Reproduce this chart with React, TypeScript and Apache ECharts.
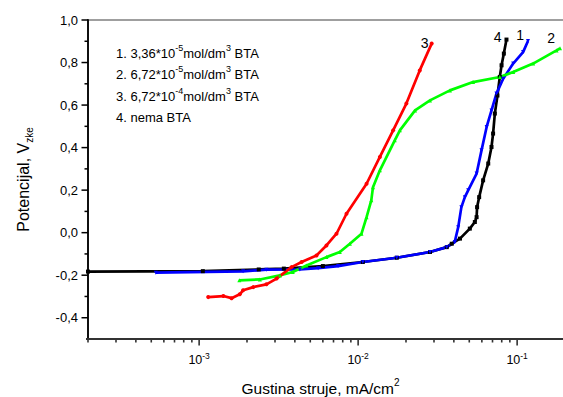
import React, { useEffect, useRef } from "react";
import * as echarts from "echarts";

// ---- data (current density in mA/cm², potential in V) ----
const series4Current = [2.0e-4, 1.055e-3, 2.37e-3, 3.41e-3, 6.0e-3, 0.0107, 0.0175, 0.0283, 0.0361, 0.0388, 0.0437, 0.0504, 0.0542, 0.0556, 0.056, 0.0577, 0.0611, 0.0658, 0.069, 0.0706, 0.0724, 0.0752, 0.0778, 0.0798, 0.0825, 0.0857];
const series4Potential = [-0.183, -0.181, -0.173, -0.169, -0.157, -0.138, -0.118, -0.091, -0.068, -0.052, -0.028, 0.019, 0.05, 0.073, 0.12, 0.167, 0.246, 0.325, 0.403, 0.466, 0.56, 0.645, 0.732, 0.787, 0.842, 0.908];

const series1Current = [5.34e-4, 1.89e-3, 2.65e-3, 4.3e-3, 5.6e-3, 7.48e-3, 0.0107, 0.0175, 0.0283, 0.0361, 0.0405, 0.0426, 0.0446, 0.0469, 0.0492, 0.0556, 0.0597, 0.0643, 0.069, 0.0741, 0.0817, 0.0944, 0.109, 0.117];
const series1Potential = [-0.188, -0.182, -0.174, -0.173, -0.167, -0.157, -0.138, -0.118, -0.091, -0.068, -0.044, 0.026, 0.12, 0.167, 0.199, 0.278, 0.387, 0.497, 0.575, 0.654, 0.724, 0.795, 0.849, 0.901];

const series2Current = [1.79e-3, 2.41e-3, 3.22e-3, 3.88e-3, 4.73e-3, 6.32e-3, 7.67e-3, 8.87e-3, 0.0105, 0.0113, 0.0121, 0.0124, 0.0137, 0.017, 0.0183, 0.0228, 0.0283, 0.0378, 0.0528, 0.0778, 0.0944, 0.126, 0.177, 0.186];
const series2Potential = [-0.224, -0.22, -0.201, -0.185, -0.154, -0.115, -0.091, -0.052, -0.005, 0.073, 0.152, 0.214, 0.293, 0.434, 0.481, 0.575, 0.622, 0.669, 0.708, 0.732, 0.755, 0.795, 0.857, 0.867];

const series3Current = [1.14e-3, 1.42e-3, 1.6e-3, 1.8e-3, 1.89e-3, 2.19e-3, 2.65e-3, 3.07e-3, 3.81e-3, 4.41e-3, 5.47e-3, 6.32e-3, 7.31e-3, 8.45e-3, 0.0113, 0.0137, 0.0166, 0.0201, 0.0244, 0.029];
const series3Potential = [-0.303, -0.298, -0.308, -0.29, -0.271, -0.256, -0.243, -0.216, -0.162, -0.138, -0.107, -0.06, -0.005, 0.089, 0.23, 0.356, 0.481, 0.607, 0.763, 0.889];

// ---- axes ----
const X_MIN = 2e-4;
const X_MAX = 0.2;
const Y_MIN = -0.5;
const Y_MAX = 1.0;
const xMinorTicks = [2e-4, 3e-4, 4e-4, 5e-4, 6e-4, 7e-4, 8e-4, 9e-4, 2e-3, 3e-3, 4e-3, 5e-3, 6e-3, 7e-3, 8e-3, 9e-3, 2e-2, 3e-2, 4e-2, 5e-2, 6e-2, 7e-2, 8e-2, 9e-2];
const xMajorTicks = [1e-3, 1e-2, 1e-1];
const yMajorTicks = [-0.4, -0.2, 0, 0.2, 0.4, 0.6, 0.8, 1.0];
const yMinorTicks = [-0.3, -0.1, 0.1, 0.3, 0.5, 0.7, 0.9];

const legendLines = [
  "1. 3,36*10{sup|-5}mol/dm{sup|3} BTA",
  "2. 6,72*10{sup|-5}mol/dm{sup|3} BTA",
  "3. 6,72*10{sup|-4}mol/dm{sup|3} BTA",
  "4. nema BTA",
];

const FONT = "'Liberation Sans', Arial, Helvetica, sans-serif";
const AXIS_DARK = "#333333";

function buildData(cur: number[], pot: number[], tag: string, offset: number[]) {
  return cur.map((c, i) =>
    i === cur.length - 1
      ? {
          value: [c, pot[i]],
          label: {
            show: true,
            formatter: tag,
            position: "left",
            offset,
            fontSize: 14,
            color: "#000",
            fontFamily: FONT,
          },
        }
      : [c, pot[i]]
  );
}

function xTick(len: number) {
  return (_p: any, api: any) => {
    const p = api.coord([api.value(0), Y_MIN]);
    return { type: "line", shape: { x1: p[0], y1: p[1], x2: p[0], y2: p[1] + len }, style: { stroke: AXIS_DARK, lineWidth: 1.6 } };
  };
}
function yTick(len: number) {
  return (_p: any, api: any) => {
    const p = api.coord([X_MIN, api.value(1)]);
    return { type: "line", shape: { x1: p[0] - len, y1: p[1], x2: p[0], y2: p[1] }, style: { stroke: "#000", lineWidth: 1.5 } };
  };
}
function bottomLine(_p: any, api: any) {
  const a = api.coord([X_MIN, Y_MIN]);
  const b = api.coord([X_MAX, Y_MIN]);
  return { type: "line", shape: { x1: a[0] - 2, y1: a[1], x2: b[0], y2: b[1] }, style: { stroke: AXIS_DARK, lineWidth: 2 } };
}

export default function App() {
  const ref = useRef<HTMLDivElement>(null);
  useEffect(() => {
    if (!ref.current) return;
    const chart = echarts.init(ref.current, undefined, { renderer: "svg" });
    const lineSeries = (name: string, data: any[], color: string, symbol: string, rotate = 0) => ({
      type: "line",
      name,
      data,
      symbol,
      symbolRotate: rotate,
      symbolSize: 4,
      showSymbol: true,
      lineStyle: { color, width: 2.7 },
      itemStyle: { color },
      silent: true,
      z: 3,
    });
    chart.setOption({
      animation: false,
      backgroundColor: "#fff",
      grid: {
        left: 88,
        top: 20,
        width: 477,
        height: 319,
        show: true,
        borderColor: "#808080",
        borderWidth: 1.5,
        outerBoundsMode: "none",
      },
      xAxis: {
        type: "log",
        logBase: 10,
        min: X_MIN,
        max: X_MAX,
        axisLine: { show: true, onZero: false, lineStyle: { color: AXIS_DARK, width: 2 } },
        axisTick: { show: false },
        splitLine: { show: false },
        axisLabel: {
          showMinLabel: false,
          showMaxLabel: false,
          margin: 12,
          color: "#000",
          fontFamily: FONT,
          formatter: (v: number) => "{base|10}{sup|" + Math.round(Math.log10(v)) + "}",
          rich: {
            base: { fontSize: 12.5, lineHeight: 18, fontFamily: FONT, color: "#000" },
            sup: { fontSize: 8.5, verticalAlign: "top", lineHeight: 9, fontFamily: FONT, color: "#000" },
          },
        },
        name: "{base|Gustina struje, mA/cm}{sup|2}",
        nameLocation: "middle",
        nameGap: 38,
        nameTextStyle: {
          color: "#000",
          fontFamily: FONT,
          padding: [0, 12, 0, 0],
          rich: {
            base: { fontSize: 15.5, lineHeight: 22, fontFamily: FONT, color: "#000" },
            sup: { fontSize: 10, verticalAlign: "top", lineHeight: 10, fontFamily: FONT, color: "#000" },
          },
        },
      },
      yAxis: {
        type: "value",
        min: Y_MIN,
        max: Y_MAX,
        interval: 0.1,
        axisLine: { show: true, onZero: false, lineStyle: { color: "#000", width: 1.8 } },
        axisTick: { show: false },
        splitLine: { show: false },
        axisLabel: {
          margin: 10,
          color: "#000",
          fontSize: 13,
          fontFamily: FONT,
          formatter: (v: number) => {
            const k = Math.round(v * 10);
            if (k % 2 !== 0) return "";
            return (k / 10).toFixed(1).replace(".", ",");
          },
        },
        name: "{base|Potencijal, V}{sub|zke}",
        nameLocation: "middle",
        nameGap: 54,
        nameTextStyle: {
          color: "#000",
          fontFamily: FONT,
          rich: {
            base: { fontSize: 16, lineHeight: 22, fontFamily: FONT, color: "#000" },
            sub: { fontSize: 10, verticalAlign: "bottom", lineHeight: 10, fontFamily: FONT, color: "#000" },
          },
        },
      },
      graphic: legendLines.map((t, i) => ({
        type: "text",
        x: 116,
        y: 53 + i * 21.5,
        silent: true,
        style: {
          text: t,
          fontSize: 13,
          lineHeight: 20,
          fontFamily: FONT,
          fill: "#000",
          verticalAlign: "middle",
          rich: { sup: { fontSize: 9, verticalAlign: "top", lineHeight: 9, fontFamily: FONT, fill: "#000" } },
        },
      })),
      series: [
        lineSeries("4. nema BTA", buildData(series4Current, series4Potential, "4", [2, -3]), "#000000", "rect"),
        lineSeries("1. 3,36*10-5 mol/dm3 BTA", buildData(series1Current, series1Potential, "1", [3, -6]), "#0000ff", "triangle", 180),
        lineSeries("2. 6,72*10-5 mol/dm3 BTA", buildData(series2Current, series2Potential, "2", [2, -10]), "#00ff00", "triangle"),
        lineSeries("3. 6,72*10-4 mol/dm3 BTA", buildData(series3Current, series3Potential, "3", [4, -1]), "#ff0000", "circle"),
        { type: "custom", data: [[X_MIN, Y_MIN]], renderItem: bottomLine, z: 6 },
        { type: "custom", data: xMinorTicks.map((v) => [v, Y_MIN]), renderItem: xTick(3.5), z: 5 },
        { type: "custom", data: xMajorTicks.map((v) => [v, Y_MIN]), renderItem: xTick(6.5), z: 5 },
        { type: "custom", data: yMinorTicks.map((v) => [X_MIN, v]), renderItem: yTick(3.5), z: 5 },
        { type: "custom", data: yMajorTicks.map((v) => [X_MIN, v]), renderItem: yTick(6.5), z: 5 },
      ],
    });
    return () => chart.dispose();
  }, []);
  return <div ref={ref} style={{ width: 563, height: 397, position: "absolute", left: 0, top: 0 }} />;
}
